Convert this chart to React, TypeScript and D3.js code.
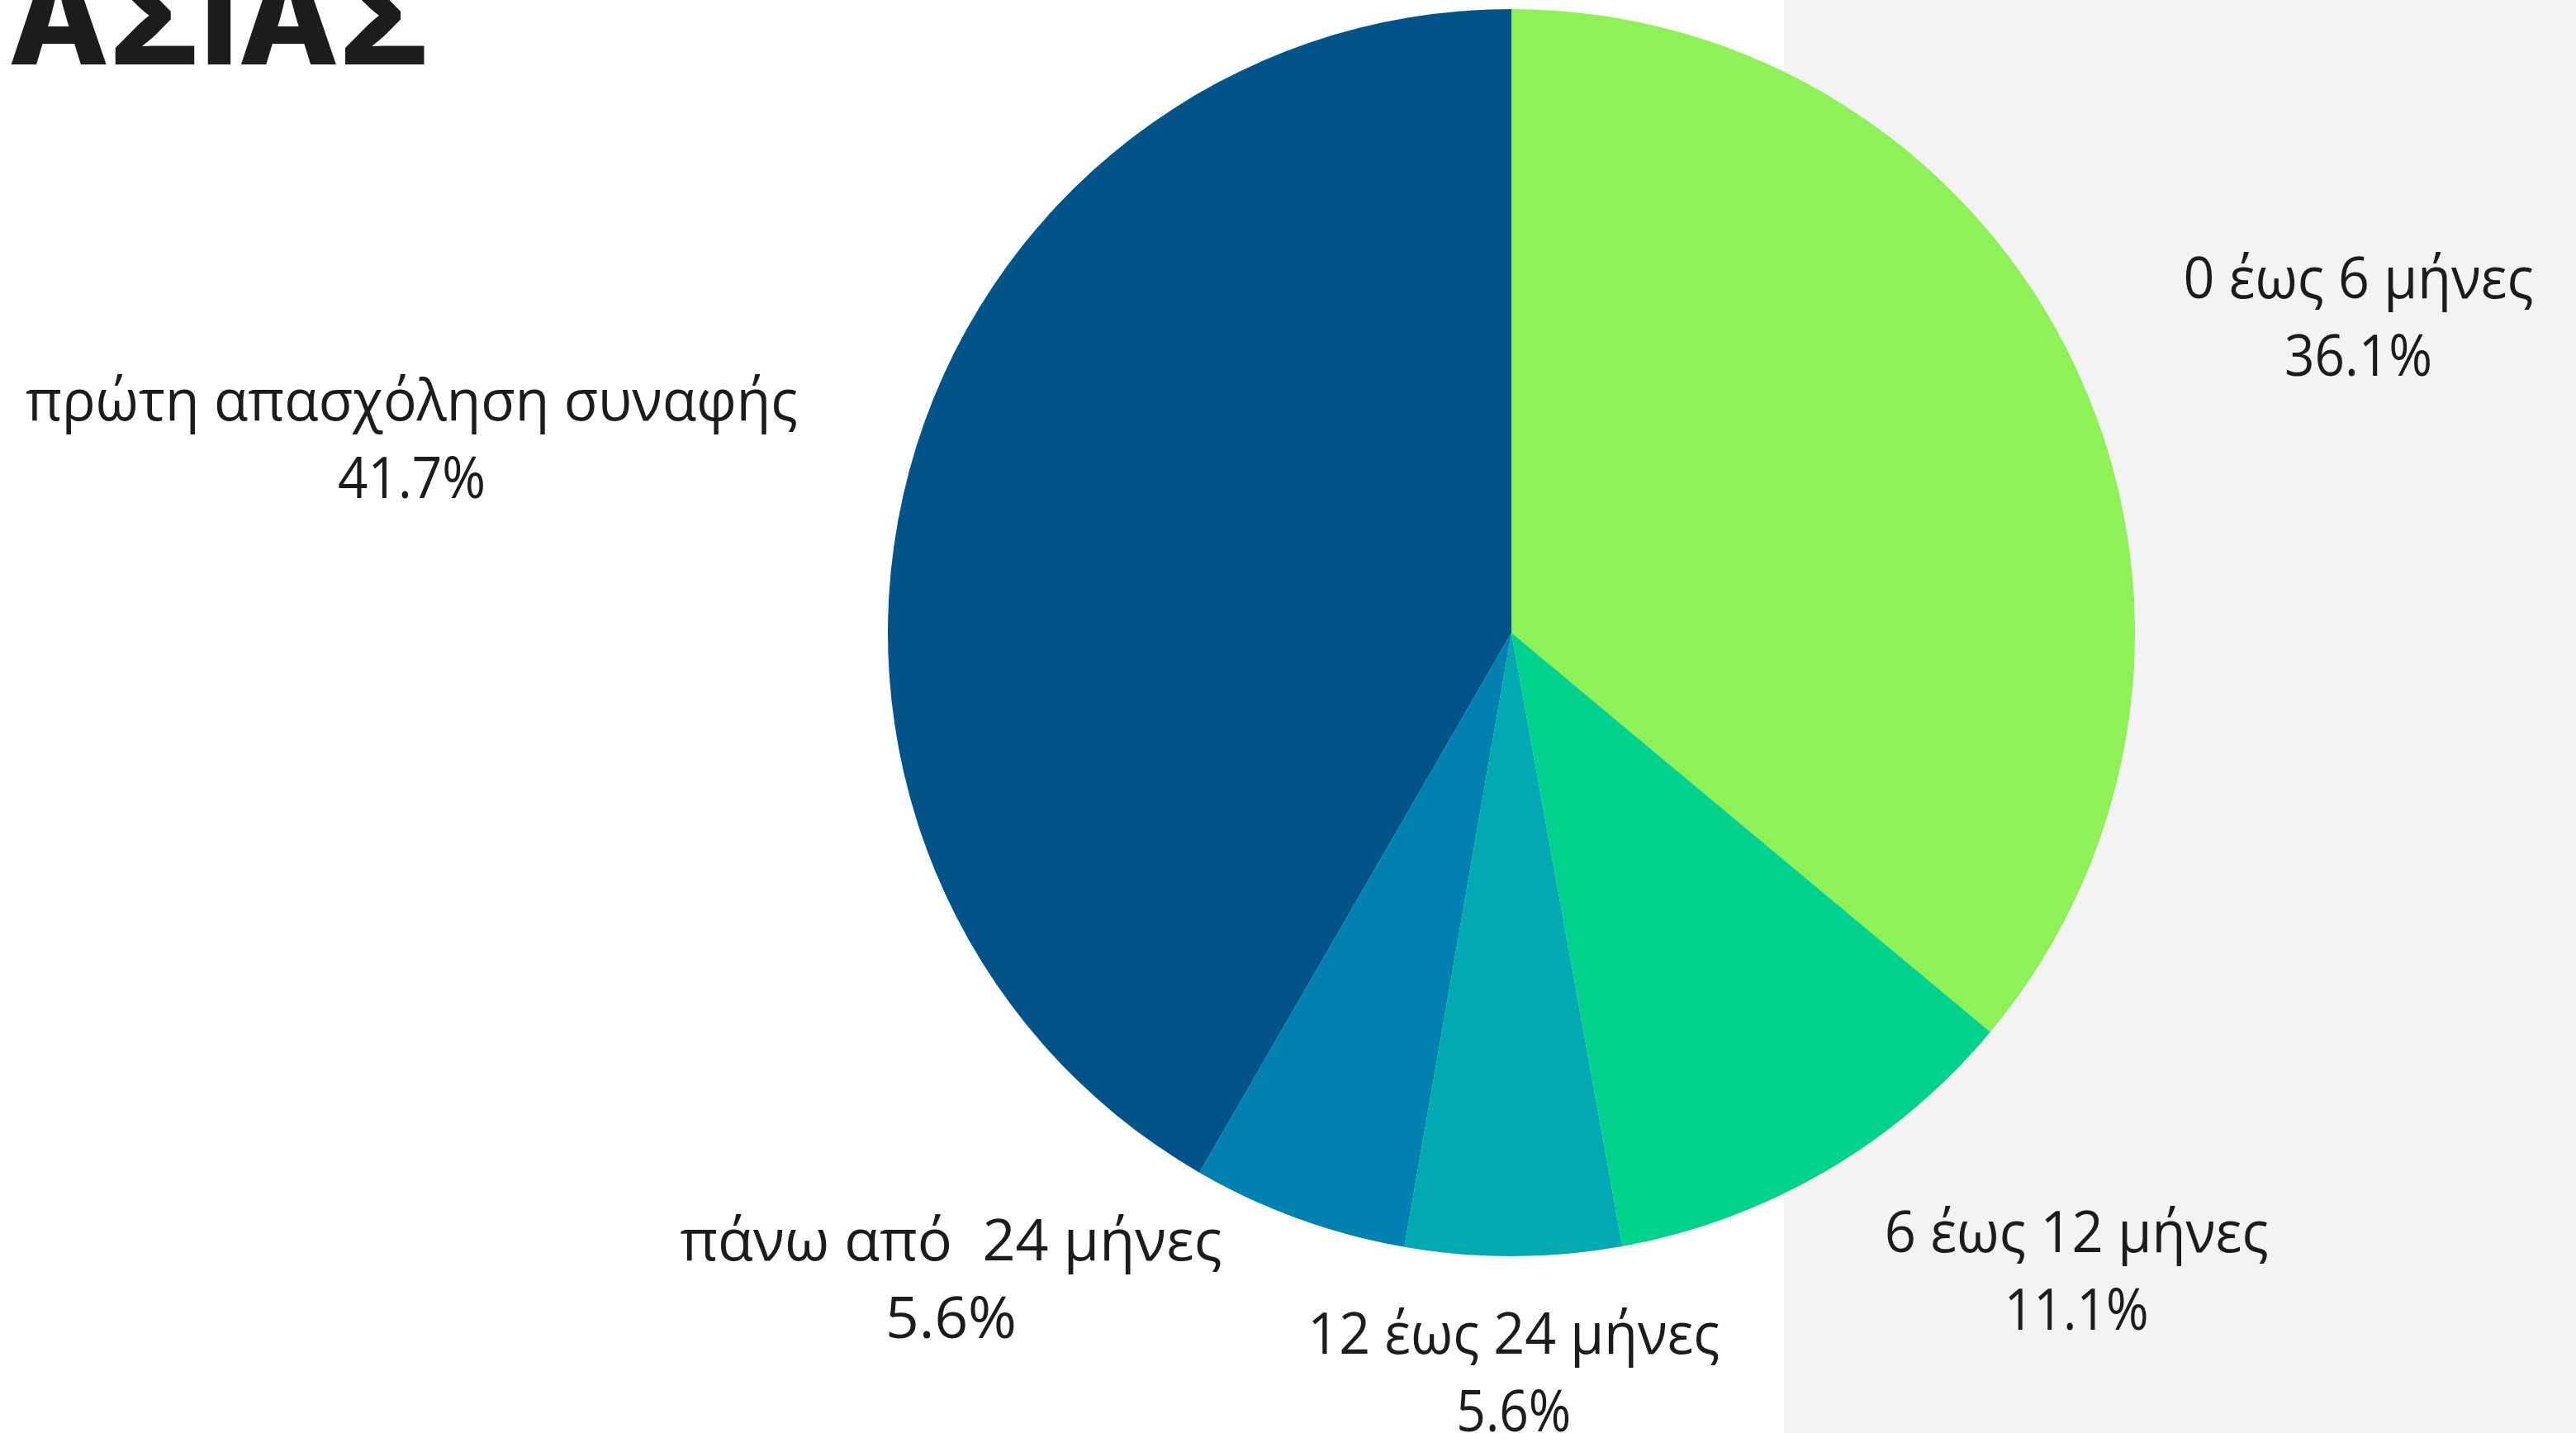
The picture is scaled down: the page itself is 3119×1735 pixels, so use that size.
import * as d3 from "d3";
import { useEffect } from "react";

// slices clockwise from 12 o'clock
const categories = [
  "0 έως 6 μήνες",
  "6 έως 12 μήνες",
  "12 έως 24 μήνες",
  "πάνω από  24 μήνες",
  "πρώτη απασχόληση συναφής",
];
const values = [36.1, 11.1, 5.6, 5.6, 41.7];
const colors = ["#8ef157", "#00d28e", "#00aab0", "#0081b0", "#02538a"];
const title = "ΑΣΙΑΣ";

// label placement: radius factor and angle nudge (deg) per slice, plus fitted line widths
const labelRadius = [1.45, 1.366, 1.186, 1.371, 1.791];
const labelAngleShift = [4.6, -11.35, 0, 21.0, -5.0];
const lineWidths = [
  [424, 179],
  [465, 175],
  [499, 139],
  [656, 159],
  [935, 179],
];

const W = 3119;
const H = 1735;

export default function App() {
  useEffect(() => {
    document.body.style.margin = "0";
  }, []);

  const cx = 1830;
  const cy = 766;
  const r = 755;

  const pie = d3
    .pie<number>()
    .sort(null)
    .value((d) => d)(values);
  const arc = d3.arc<d3.PieArcDatum<number>>().innerRadius(0).outerRadius(r);
  const fmt = d3.format(".1f");

  return (
    <svg
      width={W}
      height={H}
      viewBox={`0 0 ${W} ${H}`}
      style={{ display: "block", background: "#ffffff" }}
    >
      <rect x={2160} y={0} width={W - 2160} height={H} fill="#f3f3f3" />
      <text
        x={10}
        y={78}
        fontFamily="Inter, 'DejaVu Sans', sans-serif"
        fontWeight={800}
        fontSize={160}
        fill="#1c1c1c"
        textLength={511}
        lengthAdjust="spacingAndGlyphs"
      >
        {title}
      </text>
      <g transform={`translate(${cx},${cy})`}>
        {pie.map((p, i) => (
          <path key={i} d={arc(p) ?? ""} fill={colors[i]} />
        ))}
        {pie.map((p, i) => {
          const mid = (p.startAngle + p.endAngle) / 2 + (labelAngleShift[i] * Math.PI) / 180;
          const lr = r * labelRadius[i];
          const lx = Math.sin(mid) * lr;
          const ly = -Math.cos(mid) * lr;
          return (
            <text
              key={`l${i}`}
              x={lx}
              y={ly}
              textAnchor="middle"
              fontFamily="'Open Sans', sans-serif"
              fontSize={70}
              fill="#1c1c1c"
              style={{ whiteSpace: "pre" }}
            >
              <tspan x={lx} dy={-22} textLength={lineWidths[i][0]} lengthAdjust="spacingAndGlyphs">
                {categories[i]}
              </tspan>
              <tspan x={lx} dy={94} textLength={lineWidths[i][1]} lengthAdjust="spacingAndGlyphs">
                {fmt(p.data)}%
              </tspan>
            </text>
          );
        })}
      </g>
    </svg>
  );
}
